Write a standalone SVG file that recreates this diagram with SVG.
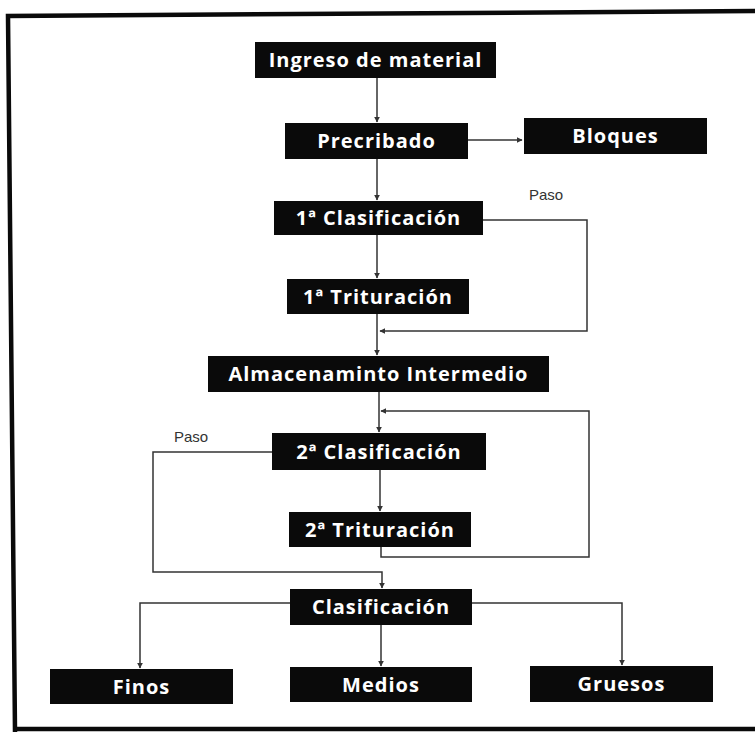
<svg xmlns="http://www.w3.org/2000/svg" width="755" height="732" viewBox="0 0 755 732">
<defs>
<marker id="ah" viewBox="0 0 10 10" refX="9" refY="5" markerWidth="6" markerHeight="6" markerUnits="userSpaceOnUse" orient="auto">
<path d="M0,0 L10,5 L0,10 z" fill="#333"/>
</marker>
<style>
.box{fill:#0a0a0a}
.lbl{fill:#fff;font-family:"Open Sans","Liberation Sans",sans-serif;font-weight:700;font-size:20px;letter-spacing:1px;text-anchor:middle}
.paso{fill:#333;font-family:"Liberation Sans",sans-serif;font-size:15px}
.c{fill:none;stroke:#333;stroke-width:1.5}
.ca{fill:none;stroke:#333;stroke-width:1.5;marker-end:url(#ah)}
.frame{fill:none;stroke:#0a0a0a;stroke-width:4.5}
</style>
</defs>
<rect width="755" height="732" fill="#fff"/>
<g id="frame">
<path class="frame" d="M755,11 L8,16 L15,732"/>
<path class="frame" d="M13,729 L755,729"/>
</g>
<g id="connectors">
<path class="ca" d="M377,78 L377,122"/>
<path class="ca" d="M468,140 L522,140"/>
<path class="ca" d="M377,159 L377,200"/>
<path class="ca" d="M483,220 L587,220 L587,331 L380,331"/>
<path class="ca" d="M377,235 L377,278"/>
<path class="ca" d="M377,314 L377,355"/>
<path class="ca" d="M379,392 L379,432"/>
<path class="ca" d="M381,547 L381,557 L589,557 L589,411 L381,411"/>
<path class="ca" d="M272,452 L153,452 L153,572 L382,572 L382,588"/>
<path class="ca" d="M380,470 L380,511"/>
<path class="ca" d="M381,625 L381,666"/>
<path class="ca" d="M290,603 L140,603 L140,668"/>
<path class="ca" d="M472,603 L622,603 L622,665"/>
</g>
<g id="paso1"><text class="paso" x="529" y="200">Paso</text></g>
<g id="paso2"><text class="paso" x="174" y="442">Paso</text></g>
<g id="ingreso"><rect class="box" x="255" y="42" width="241" height="36"/><text class="lbl" x="375.5" y="67">Ingreso de material</text></g>
<g id="precribado"><rect class="box" x="285" y="123" width="183" height="36"/><text class="lbl" x="376.5" y="148">Precribado</text></g>
<g id="bloques"><rect class="box" x="524" y="118" width="183" height="36"/><text class="lbl" x="615.5" y="143">Bloques</text></g>
<g id="clas1"><rect class="box" x="274" y="201" width="209" height="34"/><text class="lbl" x="378.5" y="225">1ª Clasificación</text></g>
<g id="trit1"><rect class="box" x="287" y="279" width="182" height="35"/><text class="lbl" x="378" y="304">1ª Trituración</text></g>
<g id="almac"><rect class="box" x="208" y="356" width="341" height="36"/><text class="lbl" x="378.5" y="381">Almacenaminto Intermedio</text></g>
<g id="clas2"><rect class="box" x="272" y="433" width="214" height="37"/><text class="lbl" x="379" y="459">2ª Clasificación</text></g>
<g id="trit2"><rect class="box" x="289" y="512" width="182" height="35"/><text class="lbl" x="380" y="537">2ª Trituración</text></g>
<g id="clasif"><rect class="box" x="290" y="589" width="182" height="36"/><text class="lbl" x="381" y="614">Clasificación</text></g>
<g id="finos"><rect class="box" x="50" y="669" width="183" height="35"/><text class="lbl" x="141.5" y="694">Finos</text></g>
<g id="medios"><rect class="box" x="290" y="667" width="182" height="35"/><text class="lbl" x="381" y="692">Medios</text></g>
<g id="gruesos"><rect class="box" x="530" y="666" width="183" height="36"/><text class="lbl" x="621.5" y="691">Gruesos</text></g>
</svg>
